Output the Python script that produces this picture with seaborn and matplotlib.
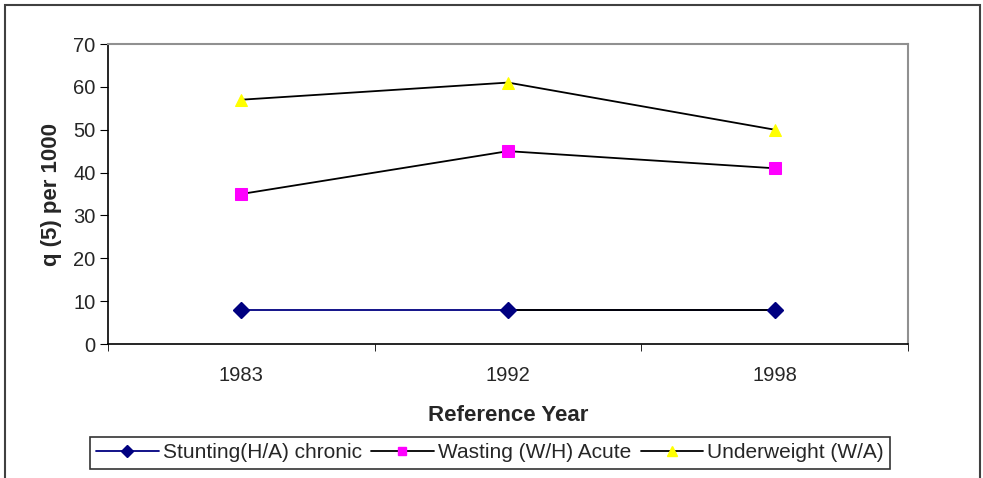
import numpy as np
import pandas as pd
import seaborn as sns
import matplotlib.pyplot as plt
from matplotlib.patches import Rectangle
from matplotlib.lines import Line2D

years = ["1983", "1992", "1998"]
stunting = [8, 8, 8]
wasting = [35, 45, 41]
underweight = [57, 61, 50]

sns.set_style("white")
plt.rcParams['font.family'] = ['Liberation Sans', 'DejaVu Sans']

fig = plt.figure(figsize=(9.83, 4.78), dpi=100)
ax = fig.add_axes([108/983, 1 - 344/478, 800/983, 300/478])

x = np.arange(len(years))
df = pd.DataFrame({"x": x, "stunting": stunting, "wasting": wasting, "underweight": underweight})

sns.lineplot(data=df, x="x", y="stunting", ax=ax, color="#000080", lw=1.3, zorder=2)
# Excel drew the last segment in black
sns.lineplot(data=df.iloc[1:], x="x", y="stunting", ax=ax, color="black", lw=1.3, zorder=3)
ax.plot(df["x"], df["stunting"], ls="none", marker="D", markersize=8, color="#000080", zorder=4)
sns.lineplot(data=df, x="x", y="wasting", ax=ax, color="black", lw=1.3,
             marker="s", markersize=8, markerfacecolor="#FF00FF", markeredgecolor="#FF00FF")
sns.lineplot(data=df, x="x", y="underweight", ax=ax, color="black", lw=1.3,
             marker="^", markersize=9, markerfacecolor="#FFFF00", markeredgecolor="#FFFF00")

ax.set_xlim(-0.5, 2.5)
ax.set_ylim(0, 70)
ax.set_yticks(range(0, 71, 10))
ax.set_xticks(x)
ax.set_xticklabels(years)
ax.set_xticks([-0.5, 0.5, 1.5, 2.5], minor=True)
ax.tick_params(axis="x", which="major", length=0, labelsize=14.5, pad=16)
ax.tick_params(axis="x", which="minor", length=5, direction="out", color="black", bottom=True)
ax.tick_params(axis="y", length=6, direction="out", color="black", left=True, labelsize=14.5, pad=3)

ax.set_xlabel("Reference Year", fontsize=16, fontweight="bold", labelpad=14)
ax.set_ylabel("q (5) per 1000", fontsize=16, fontweight="bold", labelpad=8)

for s in ["left", "bottom"]:
    ax.spines[s].set_color("black")
    ax.spines[s].set_linewidth(1.2)
for s in ["top", "right"]:
    ax.spines[s].set_color("#909090")
    ax.spines[s].set_linewidth(1.5)

handles = [
    Line2D([], [], color="#000080", lw=1.3, marker="D", markersize=6, markerfacecolor="#000080"),
    Line2D([], [], color="black", lw=1.3, marker="s", markersize=6, markerfacecolor="#FF00FF", markeredgecolor="#FF00FF"),
    Line2D([], [], color="black", lw=1.3, marker="^", markersize=7, markerfacecolor="#FFFF00", markeredgecolor="#FFFF00"),
]
labels = ["Stunting(H/A) chronic", "Wasting (W/H) Acute", "Underweight (W/A)"]
leg = fig.legend(handles, labels, loc="center", bbox_to_anchor=(490/983, 1 - 453/478), ncol=3,
                 fontsize=15, frameon=True, fancybox=False, edgecolor="black",
                 handlelength=3.0, columnspacing=0.45, handletextpad=0.2, borderpad=0.3)
leg.get_frame().set_linewidth(1.2)

fig.patches.append(Rectangle((5/983, -0.02), 975/983, 1 - 5/478 + 0.02, transform=fig.transFigure,
                             fill=False, edgecolor="#404040", lw=1.5))

fig.savefig("out.png", dpi=100)
